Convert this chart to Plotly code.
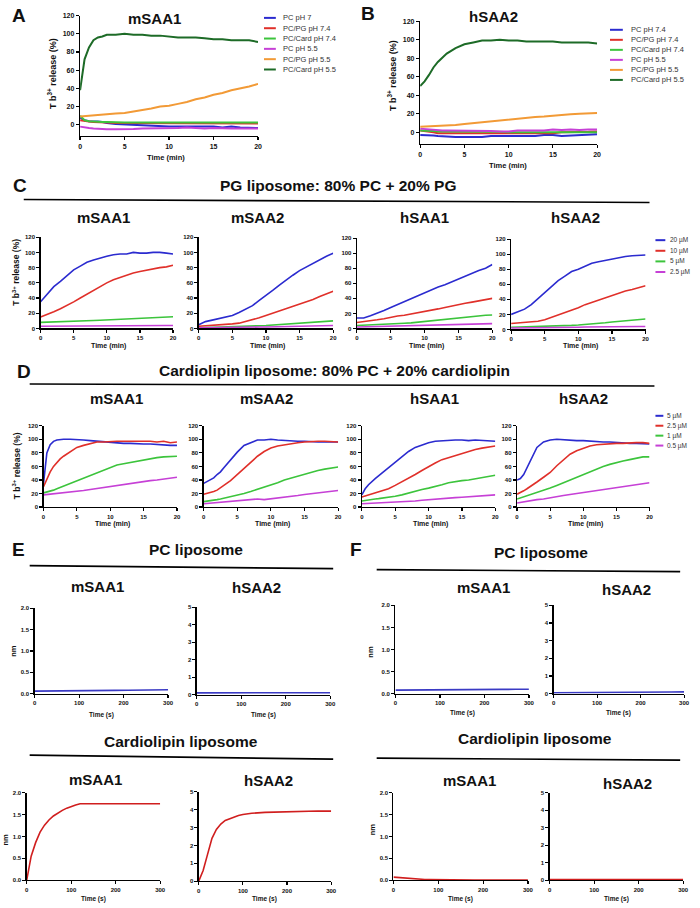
import plotly.graph_objects as go

W, H = 700, 908
FONT = "Liberation Sans, Arial, sans-serif"

# ---------------- data ----------------
T_FAST = [0, 0.5, 1, 1.5, 2, 2.5, 3, 4, 5, 6, 7, 8, 9, 10, 11, 12, 13, 14, 15, 16, 17, 18, 19, 20]
T_MIN = [0, 1, 2, 3, 4, 5, 6, 7, 8, 9, 10, 11, 12, 13, 14, 15, 16, 17, 18, 19, 20]
T_SEC = [0, 10, 20, 30, 40, 50, 60, 70, 80, 90, 100, 110, 120, 150, 180, 210, 240, 270, 300]

# Panel A (mSAA1)
A_LABELS = ["PC pH 7", "PC/PG pH 7.4", "PC/Card pH 7.4", "PC pH 5.5", "PC/PG pH 5.5", "PC/Card pH 5.5"]
A_pc_7 = [8, 5, 4, 4, 3.5, 3, 2, 1, 0.5, 0, -1, -1, -1.5, -2, -2, -2, -2.5, -2.5, -2, -3, -2, -3, -3, -3.5]
A_pcpg_74 = [5, 4, 3.5, 3, 3, 2.5, 2.5, 2, 2, 2, 2, 2, 1.5, 1.5, 1.5, 1.5, 1.5, 1.5, 1.5, 1.5, 1.5, 1.5, 1.5, 1.5]
A_pccard_74 = [10, 5, 4, 3.5, 3, 3, 3, 2.5, 2.5, 2.5, 2.5, 2.5, 2.5, 2.5, 2.5, 2.5, 2.5, 2.5, 2.5, 2.5, 2.5, 2.5, 2.5, 2.5]
A_pc_55 = [-2, -3, -3.5, -4, -4.5, -5, -5, -5, -5, -4.5, -4, -4, -3.5, -3.5, -3.5, -3, -3.5, -4, -3.5, -4, -4, -4, -4, -4]
A_pcpg_55 = [9, 9.5, 10, 10.5, 11, 11.5, 12, 12.5, 13, 14.5, 16, 18, 20, 21, 23, 25, 28, 30, 33, 35, 38, 40, 42, 45]
A_pccard_55 = [38, 72, 85, 93, 96, 97, 99, 99, 100, 99, 99, 98, 98, 97, 96, 96, 96, 95, 94, 94, 93, 93, 93, 91]

# Panel B (hSAA2)
B_LABELS = ["PC pH 7.4", "PC/PG pH 7.4", "PC/Card pH 7.4", "PC pH 5.5", "PC/PG pH 5.5", "PC/Card pH 5.5"]
B_pc_74 = [-3, -3, -3.5, -3.5, -4, -4, -4.5, -5, -5, -5, -5, -4, -4, -4, -4, -4, -4, -3, -3, -4, -3.5, -3, -3, -2]
B_pcpg_74 = [2, 1.5, 1, 0, -1, -1, -1, -1, -1, -1, -1, -1, -1, -1, -1, -1.5, -1.5, -1, -1, 0, 0, 0, 0.5, 1]
B_pccard_74 = [2, 2, 1.5, 1.5, 1, 1, 1, 1, 1, 1, 1, 0.5, 0.5, 0, 0, 0, 0, 0, 0, 0, 0, 0, 0, 0]
B_pc_55 = [4, 3.5, 3, 2.5, 2, 2, 2, 2, 2, 2, 1.5, 1.5, 1, 1, 2, 2, 1.5, 2, 3, 2.5, 3, 2.5, 3, 3]
B_pcpg_55 = [6, 6.2, 6.5, 6.8, 7, 7.2, 7.5, 8, 9, 10, 11, 12, 13, 14, 15, 16, 16.5, 17, 18, 19, 19.5, 20, 20.5, 21]
B_pccard_55 = [50, 55, 62, 70, 76, 81, 85, 91, 95, 97, 99, 99, 100, 99, 99, 98, 98, 98, 98, 97, 97, 97, 97, 96]

# Panel C (PG liposome), concentrations 20, 10, 5, 2.5 uM
C_LABELS = ["20 µM", "10 µM", "5 µM", "2.5 µM"]
C_mSAA1_20 = [35, 45, 55, 62, 70, 77, 82, 87, 90, 93, 95, 97, 98, 98, 100, 99, 99, 100, 100, 99, 98]
C_mSAA1_10 = [15, 18, 22, 26, 30, 35, 40, 45, 51, 55, 60, 64, 67, 71, 73, 75, 77, 78, 80, 81, 83]
C_mSAA1_5 = [8, 8.2, 8.5, 8.8, 9, 9.3, 9.6, 10, 10.4, 10.8, 11.2, 11.6, 12, 12.4, 12.8, 13.2, 13.6, 14, 14.5, 15, 15.5]
C_mSAA1_25 = [3, 3, 3, 3, 3, 3, 3.2, 3.2, 3.2, 3.2, 3.3, 3.4, 3.4, 3.5, 3.5, 3.6, 3.7, 3.8, 3.8, 3.9, 4]
C_mSAA2_20 = [5, 9, 11, 13, 15, 17, 21, 25, 30, 37, 43, 50, 57, 64, 70, 76, 81, 86, 90, 95, 99]
C_mSAA2_10 = [3, 3.5, 4, 4.5, 5, 6, 7, 9, 12, 14, 17, 20, 23, 26, 29, 32, 35, 38, 42, 45, 49]
C_mSAA2_5 = [1, 1.2, 1.4, 1.6, 1.8, 2, 2.4, 2.8, 3.2, 3.6, 4, 4.6, 5.2, 5.8, 6.4, 7, 7.6, 8.2, 8.8, 9.4, 10]
C_mSAA2_25 = [1, 1, 1.1, 1.2, 1.3, 1.4, 1.5, 1.6, 1.8, 1.9, 2, 2.2, 2.4, 2.6, 2.8, 3, 3.2, 3.4, 3.6, 3.8, 4]
C_hSAA1_20 = [14, 14, 17, 20, 24, 28, 32, 35, 39, 43, 47, 51, 55, 58, 62, 66, 70, 73, 77, 80, 85]
C_hSAA1_10 = [8, 9, 10, 11.5, 13, 15, 16.5, 17.5, 19, 20.5, 22, 24, 26, 28, 30, 32, 33.5, 35, 36.5, 38, 40]
C_hSAA1_5 = [4, 4.3, 4.6, 5, 5.4, 6, 6.5, 7, 7.5, 8.5, 9.5, 10.5, 11.5, 12.5, 13.5, 14.5, 15.5, 16, 16.5, 17.5, 18]
C_hSAA1_25 = [2, 2.2, 2.4, 2.6, 2.8, 3, 3.2, 3.4, 3.6, 3.8, 4, 4.3, 4.6, 4.9, 5.2, 5.5, 5.8, 6, 6.2, 6.4, 6.5]
C_hSAA2_20 = [20, 23, 27, 33, 41, 48, 56, 65, 71, 77, 80, 84, 88, 90, 92, 94, 95, 97, 98, 99, 99]
C_hSAA2_10 = [8, 8.5, 9, 10, 11, 13, 16, 19, 22, 26, 29, 33, 36, 40, 43, 46, 49, 51, 53, 56, 58]
C_hSAA2_5 = [3, 3.2, 3.4, 3.6, 3.8, 4, 4.3, 4.6, 5, 5.5, 6, 6.6, 7.2, 8, 9, 10, 10.8, 11.6, 12.4, 13.2, 14]
C_hSAA2_25 = [2, 2, 2, 2.1, 2.2, 2.3, 2.4, 2.6, 2.8, 3, 3, 3.2, 3.4, 3.6, 3.8, 4, 4, 4, 4, 4, 4]

# Panel D (cardiolipin liposome), concentrations 5, 2.5, 1, 0.5 uM
D_LABELS = ["5 µM", "2.5 µM", "1 µM", "0.5 µM"]
D_mSAA1_5 = [35, 80, 92, 97, 99, 100, 100, 100, 100, 99, 98, 97, 96, 95, 95, 94, 94, 93, 93, 93, 92, 92, 91, 91]
D_mSAA1_25 = [30, 42, 52, 60, 66, 71, 75, 82, 88, 91, 94, 96, 96, 97, 97, 97, 97, 98, 97, 97, 96, 97, 95, 96]
D_mSAA1_1 = [21, 22, 23, 25, 27, 29, 31, 34, 38, 42, 46, 51, 55, 59, 62, 64, 66, 68, 70, 71, 73, 74, 74, 75]
D_mSAA1_05 = [18, 18.5, 19, 19, 19.5, 20, 21, 22, 23, 24.5, 26, 27.5, 29, 31, 32.5, 34, 35, 36.5, 38, 39, 40, 41.5, 43, 44]
D_mSAA2_5 = [35, 38, 40, 43, 48, 52, 58, 70, 81, 91, 95, 99, 99, 100, 99, 98, 98, 97, 97, 96, 96, 96, 96, 96]
D_mSAA2_25 = [19, 20, 22, 23, 25, 28, 32, 39, 48, 56, 66, 75, 82, 87, 90, 92, 94, 95, 96, 97, 97, 97, 97, 96]
D_mSAA2_1 = [8, 8.5, 9, 10, 11, 12, 13, 15, 17, 20, 23, 26, 29, 32, 36, 40, 43, 46, 49, 51, 54, 56, 58, 59]
D_mSAA2_05 = [5, 5.5, 6, 6, 6.5, 7, 7, 8, 9, 10, 11, 12, 11, 12, 13, 14, 15.5, 17, 18.5, 19.5, 21, 22.5, 23.5, 24.5]
D_hSAA1_5 = [18, 27, 33, 38, 42, 46, 50, 58, 66, 74, 82, 88, 92, 95, 97, 98, 98, 99, 99, 98, 99, 98, 98, 97]
D_hSAA1_25 = [15, 16.5, 18, 19.5, 21, 22.5, 24, 27, 32, 37, 42, 48, 54, 60, 65, 70, 73, 77, 80, 83, 85, 87, 88, 90]
D_hSAA1_1 = [9, 10, 11, 11.5, 12, 12.5, 13, 15, 16, 18, 21, 23, 26, 28, 30, 33, 36, 38, 39, 40, 42, 44, 46, 47]
D_hSAA1_05 = [5, 5.2, 5.5, 5.8, 6, 6.2, 6.5, 7, 7.5, 8, 8.5, 9, 10, 11, 11.5, 12, 13, 14, 14.5, 15, 15.5, 16, 17, 18]
D_hSAA2_5 = [40, 42, 48, 58, 70, 80, 88, 96, 99, 100, 99, 99, 98, 98, 97, 97, 96, 96, 95, 95, 94, 94, 93, 93]
D_hSAA2_25 = [19, 21, 24, 27, 30, 33, 37, 44, 51, 61, 70, 78, 83, 87, 90, 92, 93, 93, 94, 94, 95, 95, 95, 94]
D_hSAA2_1 = [12, 13.5, 15, 16.5, 18, 19.5, 21, 24, 28, 32, 36, 40, 45, 49, 53, 57, 60, 63, 66, 68, 70, 72, 74, 74]
D_hSAA2_05 = [6, 7, 8, 9, 10, 10.5, 11, 12, 14, 15.5, 17, 18.5, 20, 22, 23.5, 25, 26.5, 28, 29.5, 31, 32.5, 34, 35, 36]

# Panels E / F (BLI, nm)
E_pc_mSAA1 = [0.06, 0.06, 0.06, 0.062, 0.063, 0.064, 0.065, 0.066, 0.067, 0.068, 0.069, 0.07, 0.071, 0.074, 0.077, 0.08, 0.083, 0.086, 0.09]
E_pc_hSAA2 = [0.1, 0.1, 0.1, 0.1, 0.1, 0.1, 0.1, 0.1, 0.1, 0.1, 0.1, 0.1, 0.1, 0.11, 0.11, 0.11, 0.11, 0.11, 0.11]
E_card_mSAA1 = [0, 0.55, 0.86, 1.1, 1.26, 1.38, 1.47, 1.54, 1.6, 1.65, 1.69, 1.72, 1.75, 1.75, 1.76, 1.76, 1.76, 1.75, 1.75]
E_card_hSAA2 = [0, 0.6, 1.5, 2.4, 2.9, 3.2, 3.4, 3.5, 3.6, 3.68, 3.73, 3.77, 3.8, 3.85, 3.88, 3.9, 3.92, 3.93, 3.92]
F_pc_mSAA1 = [0.08, 0.08, 0.08, 0.082, 0.083, 0.084, 0.085, 0.086, 0.087, 0.088, 0.089, 0.09, 0.09, 0.092, 0.094, 0.096, 0.097, 0.098, 0.1]
F_pc_hSAA2 = [0.05, 0.05, 0.05, 0.06, 0.06, 0.06, 0.06, 0.07, 0.07, 0.07, 0.07, 0.07, 0.08, 0.08, 0.08, 0.09, 0.09, 0.09, 0.1]
F_card_mSAA1 = [0.07, 0.06, 0.05, 0.04, 0.032, 0.025, 0.02, 0.016, 0.013, 0.011, 0.009, 0.008, 0.007, 0.006, 0.005, 0.005, 0.004, 0.004, 0.004]
F_card_hSAA2 = [0.04, 0.04, 0.04, 0.04, 0.04, 0.04, 0.04, 0.04, 0.04, 0.04, 0.04, 0.04, 0.04, 0.04, 0.04, 0.04, 0.04, 0.04, 0.04]

# ---------------- styles ----------------
BLUE = "#2b2bcf"
RED = "#e0302a"
GREEN = "#3cc43c"
MAGENTA = "#c640d6"
ORANGE = "#f29a36"
DKGREEN = "#1d6b27"
BLI_BLUE = "#3a3ac4"
BLI_RED = "#d01e1e"
TXT = "#111111"
AB_COLORS = [BLUE, RED, GREEN, MAGENTA, ORANGE, DKGREEN]
CD_COLORS = [BLUE, RED, GREEN, MAGENTA]

fig = go.Figure()
axes = {}
annotations = []
shapes = []


def dom_x(a, b):
    return [a / W, b / W]


def dom_y(top, bottom):
    return [1 - bottom / H, 1 - top / H]


def add_panel(i, xpx, ypx, xrange, yrange, xticks, yticks, tsize, ytickfmt=None):
    xn = "xaxis" if i == 1 else f"xaxis{i}"
    yn = "yaxis" if i == 1 else f"yaxis{i}"
    xr = "x" if i == 1 else f"x{i}"
    yr = "y" if i == 1 else f"y{i}"
    common = dict(showline=True, linecolor="black", linewidth=1.3, ticks="outside",
                  ticklen=3, tickwidth=1.2, tickcolor="black", showgrid=False,
                  zeroline=False, fixedrange=True,
                  tickfont=dict(family=FONT, size=tsize, color=TXT, weight="bold"))
    axes[xn] = dict(domain=dom_x(*xpx), range=xrange, anchor=yr, tickvals=xticks, **common)
    ya = dict(domain=dom_y(*ypx), range=yrange, anchor=xr, tickvals=yticks, **common)
    if ytickfmt:
        ya["tickformat"] = ytickfmt
    axes[yn] = ya
    return xr, yr


def add_lines(xr, yr, t, series, colors, width=1.7):
    for s, c in zip(series, colors):
        fig.add_trace(go.Scatter(x=t, y=s, mode="lines", line=dict(color=c, width=width),
                                 xaxis=xr, yaxis=yr, showlegend=False, hoverinfo="skip"))


def text(s, x, y, size, bold=True, angle=0, xanchor="center", color=TXT):
    annotations.append(dict(text=s, x=x / W, y=1 - y / H, xref="paper", yref="paper",
                            showarrow=False, xanchor=xanchor, yanchor="middle",
                            textangle=angle, borderpad=0,
                            font=dict(family=FONT, size=size, color=color,
                                      weight="bold" if bold else "normal")))


def hline(x0, y0, x1, y1, color="black", width=1.6):
    shapes.append(dict(type="line", xref="paper", yref="paper", x0=x0 / W, y0=1 - y0 / H,
                       x1=x1 / W, y1=1 - y1 / H, line=dict(color=color, width=width)))


def legend(labels, colors, lx0, lx1, tx, y0, dy, size):
    for k, (lab, c) in enumerate(zip(labels, colors)):
        y = y0 + k * dy
        hline(lx0, y, lx1, y, color=c, width=2)
        text(lab, tx, y, size, bold=False, xanchor="left", color="#333333")


REL_TICKS = [0, 20, 40, 60, 80, 100, 120]
MIN_TICKS = [0, 5, 10, 15, 20]
SEC_TICKS = [0, 100, 200, 300]
YT = "T b<sup>3+</sup> release (%)"

# ---- Panel A ----
xr, yr = add_panel(1, (79, 259), (11.7, 133.2), [0, 20], [-12.5, 120], MIN_TICKS, REL_TICKS, 7)
add_lines(xr, yr, T_FAST, [A_pc_7, A_pcpg_74, A_pccard_74, A_pc_55, A_pcpg_55, A_pccard_55], AB_COLORS, 2)
text("mSAA1", 154, 15, 15)
text("Time (min)", 166, 155, 7.5)
text(YT, 51, 70, 9, angle=-90)
legend(A_LABELS, AB_COLORS, 265, 277, 283, 14, 10.4, 7.5)
text("A", 17, 12, 19)

# ---- Panel B ----
xr, yr = add_panel(2, (423, 602), (17.3, 141), [0, 20], [-12.5, 120], MIN_TICKS, REL_TICKS, 7)
add_lines(xr, yr, T_FAST, [B_pc_74, B_pcpg_74, B_pccard_74, B_pc_55, B_pcpg_55, B_pccard_55], AB_COLORS, 2)
text("hSAA2", 497, 13, 15)
text("Time (min)", 512, 163, 7.5)
text(YT, 395, 72, 9, angle=-90)
legend(B_LABELS, AB_COLORS, 615, 628, 635, 26, 10.1, 7.5)
text("B", 370, 10, 19)

# ---- Panel C ----
text("C", 18, 183, 19)
text("PG liposome: 80% PC + 20% PG", 340, 183, 15.5)
hline(22, 197, 655, 200)
C_X = [(39, 173), (199, 335), (359, 496), (515, 651)]
C_Y = [(235, 327), (235, 327), (236, 327), (237, 328)]
C_TITLES = ["mSAA1", "mSAA2", "hSAA1", "hSAA2"]
C_TITLE_X = [103, 258, 427, 580]
C_DATA = [
    [C_mSAA1_20, C_mSAA1_10, C_mSAA1_5, C_mSAA1_25],
    [C_mSAA2_20, C_mSAA2_10, C_mSAA2_5, C_mSAA2_25],
    [C_hSAA1_20, C_hSAA1_10, C_hSAA1_5, C_hSAA1_25],
    [C_hSAA2_20, C_hSAA2_10, C_hSAA2_5, C_hSAA2_25],
]
for k in range(4):
    xr, yr = add_panel(3 + k, C_X[k], C_Y[k], [0, 20], [0, 120], MIN_TICKS, REL_TICKS, 6)
    add_lines(xr, yr, T_MIN, C_DATA[k], CD_COLORS, 1.6)
    text(C_TITLES[k], C_TITLE_X[k], 215, 15)
    text("Time (min)", (C_X[k][0] + C_X[k][1]) / 2 + 2, 345, 7)
text(YT, 15, 270, 8.5, angle=-90)
legend(C_LABELS, CD_COLORS, 661, 671, 675, 238, 10.7, 6.5)

# ---- Panel D ----
text("D", 22, 370, 19)
text("Cardiolipin liposome: 80% PC + 20% cardiolipin", 336, 369, 15.5)
hline(28, 383, 660, 385)
D_X = [(42, 177), (204, 340), (364, 499), (521, 655)]
D_TITLE_X = [116, 268, 438, 588]
D_DATA = [
    [D_mSAA1_5, D_mSAA1_25, D_mSAA1_1, D_mSAA1_05],
    [D_mSAA2_5, D_mSAA2_25, D_mSAA2_1, D_mSAA2_05],
    [D_hSAA1_5, D_hSAA1_25, D_hSAA1_1, D_hSAA1_05],
    [D_hSAA2_5, D_hSAA2_25, D_hSAA2_1, D_hSAA2_05],
]
for k in range(4):
    xr, yr = add_panel(7 + k, D_X[k], (425, 507), [0, 20], [0, 120], MIN_TICKS, REL_TICKS, 6)
    add_lines(xr, yr, T_FAST, D_DATA[k], CD_COLORS, 1.6)
    text(C_TITLES[k], D_TITLE_X[k], 398, 15)
    text("Time (min)", (D_X[k][0] + D_X[k][1]) / 2 + 2, 524, 7)
text(YT, 15, 465, 8.5, angle=-90)
legend(D_LABELS, CD_COLORS, 661, 669, 672, 415, 10, 6.5)

# ---- Panels E and F ----
text("E", 17, 550, 19)
text("F", 358, 550, 19)
text("PC liposome", 196, 550, 15.5)
text("Cardiolipin liposome", 181, 743, 15.5)
text("PC liposome", 545, 553, 15.5)
text("Cardiolipin liposome", 539, 740, 15.5)
hline(28, 566, 335, 569)
hline(28, 757, 335, 761)
hline(379, 570, 686, 572)
hline(379, 760, 686, 762)

BLI = [
    # idx, xpx, ypx, ymax, data, color, title, title pos, time-label y, nm pos
    (11, (33, 168), (609, 695), 2, E_pc_mSAA1, BLI_BLUE, "mSAA1", (97, 587), 717, (12, 652)),
    (12, (197, 332), (608, 696), 5, E_pc_hSAA2, BLI_BLUE, "hSAA2", (257, 588), 717, None),
    (13, (25, 160), (795, 883), 2, E_card_mSAA1, BLI_RED, "mSAA1", (95, 782), 902, (4, 842)),
    (14, (199, 333), (794, 884), 5, E_card_hSAA2, BLI_RED, "hSAA2", (270, 783), 902, None),
    (15, (398, 533), (606, 695), 2, F_pc_mSAA1, BLI_BLUE, "mSAA1", (487, 588), 715, (373, 653)),
    (16, (558, 690), (606, 695), 5, F_pc_hSAA2, BLI_BLUE, "hSAA2", (632, 590), 715, None),
    (17, (396, 532), (795, 883), 2, F_card_mSAA1, BLI_RED, "mSAA1", (473, 783), 902, (375, 832)),
    (18, (554, 689), (795, 883), 5, F_card_hSAA2, BLI_RED, "hSAA2", (633, 786), 902, None),
]
for idx, xpx, ypx, ymax, data, col, title, tpos, tly, nmpos in BLI:
    if ymax == 2:
        yt, fmt = [0, 0.5, 1.0, 1.5, 2.0], ".1f"
    else:
        yt, fmt = [0, 1, 2, 3, 4, 5], None
    xr, yr = add_panel(idx, xpx, ypx, [0, 300], [0, ymax], SEC_TICKS, yt, 6, fmt)
    add_lines(xr, yr, T_SEC, [data], [col], 1.6)
    text(title, tpos[0], tpos[1], 15)
    text("Time (s)", (xpx[0] + xpx[1]) / 2, tly, 6.5)
    if nmpos:
        text("nm", nmpos[0], nmpos[1], 7.5, angle=-90)

fig.update_layout(
    width=W, height=H, margin=dict(l=0, r=0, t=0, b=0),
    paper_bgcolor="white", plot_bgcolor="white",
    font=dict(family=FONT, color=TXT),
    showlegend=False,
    annotations=annotations, shapes=shapes,
    **axes,
)

fig.write_html("out.html",
               config={"displayModeBar": False, "staticPlot": True},
               post_script="document.body.style.margin='0px';document.body.style.overflow='hidden';")
